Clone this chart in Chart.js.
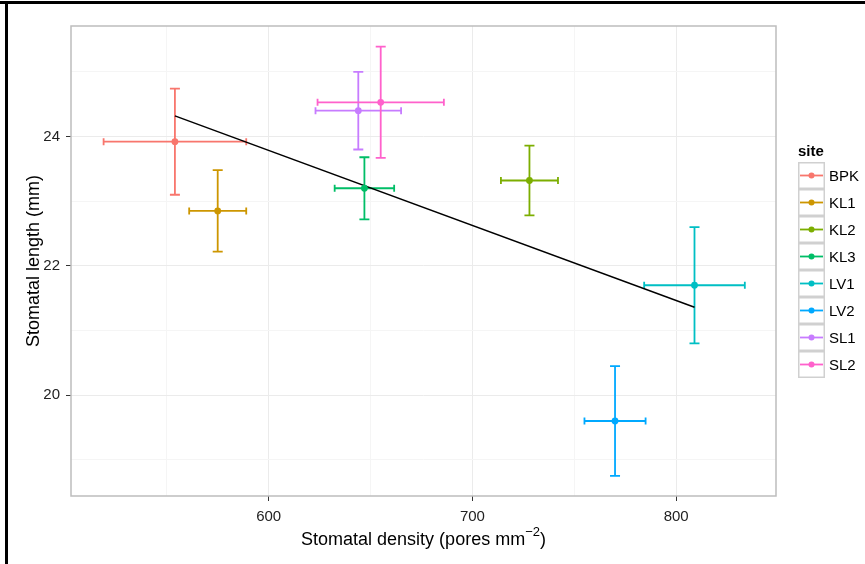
<!DOCTYPE html>
<html>
<head>
<meta charset="utf-8">
<script src="https://cdn.jsdelivr.net/npm/chart.js@4/dist/chart.umd.min.js"></script>
<style>
  html, body { margin: 0; padding: 0; background: #fff; }
  #wrap { width: 865px; height: 564px; position: relative; }
</style>
</head>
<body>
<div id="wrap"><canvas id="stomataChart" width="865" height="564"></canvas></div>
<script>
// Site means with +/- error
const sites = ["BPK", "KL1", "KL2", "KL3", "LV1", "LV2", "SL1", "SL2"];
const siteColors = ["#F8766D", "#CD9600", "#7CAE00", "#00BE67", "#00BFC4", "#00A9FF", "#C77CFF", "#FF61CC"];
const density = [554, 575, 728, 647, 809, 770, 644, 655];
const densityErr = [35, 14, 14, 14.6, 24.7, 15, 21, 31];
const lengthMm = [23.92, 22.85, 23.32, 23.20, 21.70, 19.60, 24.40, 24.53];
const lengthErr = [0.82, 0.63, 0.54, 0.48, 0.90, 0.85, 0.60, 0.86];

// regression line end points
const fitX = [554, 809];
const fitY = [24.32, 21.36];

// axis ticks (major ones get labels)
const xTicks = [550, 600, 650, 700, 750, 800];
const yTicks = [19, 20, 21, 22, 23, 24, 25];
const xMajor = [600, 700, 800];
const yMajor = [20, 22, 24];

const FONT = "'Liberation Sans', Arial, Helvetica, sans-serif";

// Draw the x and y error bars under the points
const errorBars = {
    id: "errorBars",
    beforeDatasetsDraw(chart) {
        const ctx = chart.ctx;
        const x = chart.scales.x, y = chart.scales.y;
        const area = chart.chartArea;

        // panel border
        ctx.save();
        ctx.strokeStyle = "#bdbdbd";
        ctx.lineWidth = 1.5;
        ctx.strokeRect(area.left, area.top, area.right - area.left, area.bottom - area.top);

        ctx.lineWidth = 1.8;
        sites.forEach((s, i) => {
            const cx = x.getPixelForValue(density[i]);
            const cy = y.getPixelForValue(lengthMm[i]);
            const x0 = x.getPixelForValue(density[i] - densityErr[i]);
            const x1 = x.getPixelForValue(density[i] + densityErr[i]);
            const y0 = y.getPixelForValue(lengthMm[i] - lengthErr[i]);
            const y1 = y.getPixelForValue(lengthMm[i] + lengthErr[i]);
            ctx.strokeStyle = siteColors[i];
            ctx.beginPath();
            // horizontal bar + caps
            ctx.moveTo(x0, cy); ctx.lineTo(x1, cy);
            ctx.moveTo(x0, cy - 3.5); ctx.lineTo(x0, cy + 3.5);
            ctx.moveTo(x1, cy - 3.5); ctx.lineTo(x1, cy + 3.5);
            // vertical bar + caps
            ctx.moveTo(cx, y0); ctx.lineTo(cx, y1);
            ctx.moveTo(cx - 5, y0); ctx.lineTo(cx + 5, y0);
            ctx.moveTo(cx - 5, y1); ctx.lineTo(cx + 5, y1);
            ctx.stroke();
        });
        ctx.restore();
    },
    afterDraw(chart) {
        const ctx = chart.ctx;
        const area = chart.chartArea;
        ctx.save();

        // outer frame (top and left only)
        ctx.fillStyle = "#000";
        ctx.fillRect(0, 1, 865, 3);
        ctx.fillRect(5, 1, 3, 563);

        // x axis title with superscript
        ctx.fillStyle = "#000";
        ctx.textBaseline = "alphabetic";
        const main = "Stomatal density (pores mm";
        ctx.font = "13px " + FONT;
        const sup = "\u22122";
        const supW = ctx.measureText(sup).width;
        ctx.font = "18px " + FONT;
        const mainW = ctx.measureText(main).width;
        const closeW = ctx.measureText(")").width;
        const total = mainW + supW + closeW;
        let tx = (area.left + area.right) / 2 - total / 2;
        const base = 545;
        ctx.textAlign = "left";
        ctx.fillText(main, tx, base);
        ctx.font = "13px " + FONT;
        ctx.fillText(sup, tx + mainW, base - 9);
        ctx.font = "18px " + FONT;
        ctx.fillText(")", tx + mainW + supW, base);

        // y axis title
        ctx.save();
        ctx.translate(39, (area.top + area.bottom) / 2);
        ctx.rotate(-Math.PI / 2);
        ctx.textAlign = "center";
        ctx.fillText("Stomatal length (mm)", 0, 0);
        ctx.restore();

        // legend
        const lx = 798, ly = 162, key = 27;
        ctx.font = "bold 15px " + FONT;
        ctx.textAlign = "left";
        ctx.fillText("site", lx, 156);
        ctx.font = "15px " + FONT;
        sites.forEach((s, i) => {
            const top = ly + i * key;
            ctx.fillStyle = "#fff";
            ctx.fillRect(lx, top, key, key);
            ctx.strokeStyle = "#d0d0d0";
            ctx.lineWidth = 1.5;
            ctx.strokeRect(lx + 0.75, top + 0.75, key - 1.5, key - 1.5);
            ctx.strokeStyle = siteColors[i];
            ctx.lineWidth = 1.8;
            ctx.beginPath();
            ctx.moveTo(lx + 2, top + key / 2);
            ctx.lineTo(lx + key - 2, top + key / 2);
            ctx.stroke();
            ctx.fillStyle = siteColors[i];
            ctx.beginPath();
            ctx.arc(lx + key / 2, top + key / 2, 3, 0, Math.PI * 2);
            ctx.fill();
            ctx.fillStyle = "#000";
            ctx.textBaseline = "middle";
            ctx.fillText(s, lx + key + 4, top + key / 2 + 1);
        });
        ctx.restore();
    }
};

const datasets = sites.map((s, i) => ({
    label: s,
    data: [{ x: density[i], y: lengthMm[i] }],
    backgroundColor: siteColors[i],
    borderColor: siteColors[i],
    pointRadius: 3.4,
    pointHoverRadius: 3.4,
    borderWidth: 0
}));

datasets.push({
    type: "line",
    label: "fit",
    data: fitX.map((v, i) => ({ x: v, y: fitY[i] })),
    borderColor: "#000",
    borderWidth: 1.5,
    pointRadius: 0,
    fill: false
});

new Chart(document.getElementById("stomataChart"), {
    type: "scatter",
    data: { datasets: datasets },
    plugins: [errorBars],
    options: {
        responsive: false,
        animation: false,
        devicePixelRatio: 1,
        layout: { padding: { left: 0, top: 26, right: 89, bottom: 0 } },
        plugins: {
            legend: { display: false },
            tooltip: { enabled: false }
        },
        scales: {
            x: {
                type: "linear",
                min: 503,
                max: 849,
                afterBuildTicks: (scale) => { scale.ticks = xTicks.map(v => ({ value: v })); },
                afterFit: (scale) => { scale.height = 68; },
                border: { display: false },
                grid: {
                    color: (c) => xMajor.includes(c.tick.value) ? "#ebebeb" : "#f5f5f5",
                    lineWidth: 1,
                    tickLength: 5,
                    tickColor: (c) => xMajor.includes(c.tick.value) ? "#333" : "rgba(0,0,0,0)"
                },
                ticks: {
                    autoSkip: false,
                    maxRotation: 0,
                    padding: 7,
                    color: "#222",
                    font: { family: FONT, size: 15 },
                    callback: (v) => xMajor.includes(v) ? String(v) : ""
                }
            },
            y: {
                type: "linear",
                min: 18.44,
                max: 25.71,
                afterBuildTicks: (scale) => { scale.ticks = yTicks.map(v => ({ value: v })); },
                afterFit: (scale) => { scale.width = 71; },
                border: { display: false },
                grid: {
                    color: (c) => yMajor.includes(c.tick.value) ? "#ebebeb" : "#f5f5f5",
                    lineWidth: 1,
                    tickLength: 5,
                    tickColor: (c) => yMajor.includes(c.tick.value) ? "#333" : "rgba(0,0,0,0)"
                },
                ticks: {
                    autoSkip: false,
                    padding: 6,
                    color: "#222",
                    font: { family: FONT, size: 15 },
                    callback: (v) => yMajor.includes(v) ? String(v) : ""
                }
            }
        }
    }
});
</script>
</body>
</html>
